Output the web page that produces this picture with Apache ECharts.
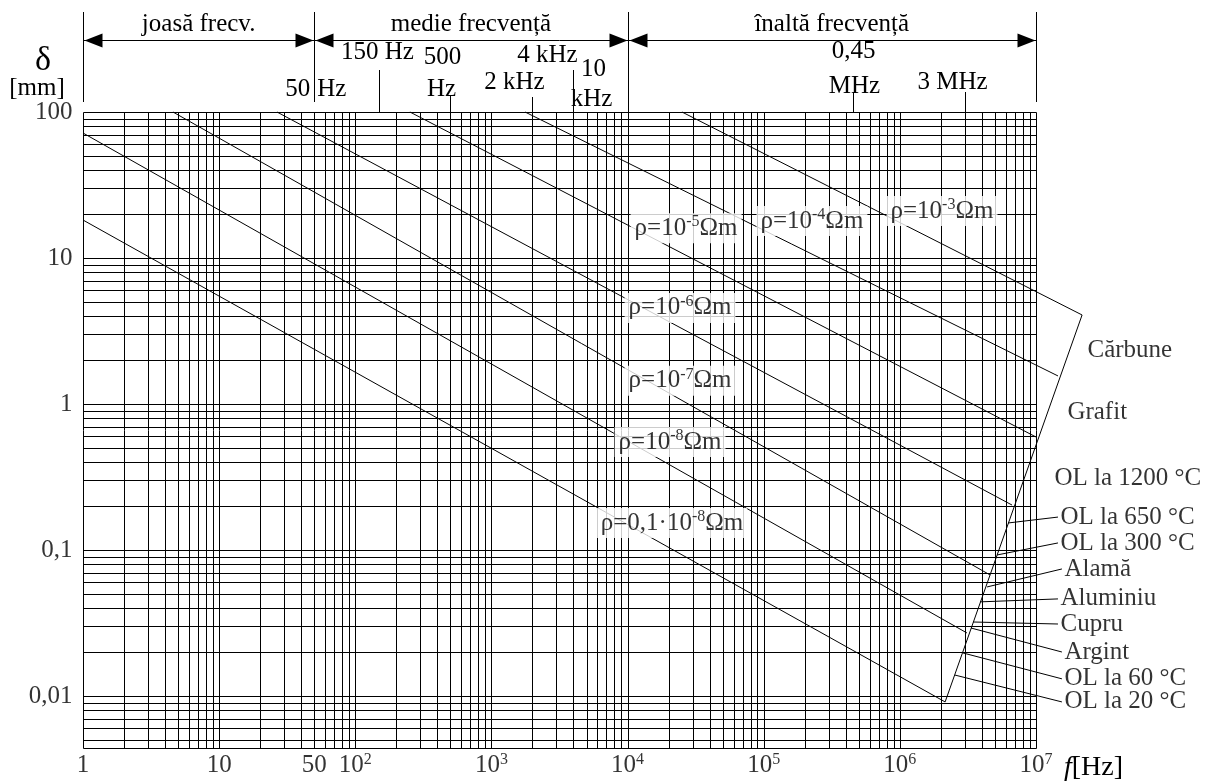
<!DOCTYPE html>
<html>
<head>
<meta charset="utf-8">
<title>Adâncimea de pătrundere δ(f)</title>
<script src="https://cdn.jsdelivr.net/npm/echarts@6.0.0/dist/echarts.min.js"></script>
<style>
  html, body { margin: 0; padding: 0; background: #fff; }
  #chart { width: 1211px; height: 782px; }
</style>
</head>
<body>
<div id="chart"></div>
<script>
// ---------------- data ----------------
const freqRange = [1, 1e7];          // f [Hz]
const depthRange = [0.0044, 100];    // δ [mm]

// δ(f) lines for each resistivity, given by their two end points [f (Hz), δ (mm)]
const rhoMantissa = ['ρ=0,1·10', 'ρ=10', 'ρ=10', 'ρ=10', 'ρ=10', 'ρ=10', 'ρ=10'];
const rhoExponent = ['-8', '-8', '-7', '-6', '-5', '-4', '-3'];
const rhoLine01e8 = [[1, 18.2], [2.15e6, 0.0091]];
const rhoLine1e8 = [[1, 71.8], [3.11e6, 0.027]];
const rhoLine1e7 = [[4.58, 100], [4.6e6, 0.0674]];
const rhoLine1e6 = [[26.6, 100], [6.67e6, 0.203]];
const rhoLine1e5 = [[252, 100], [1e7, 0.594]];
const rhoLine1e4 = [[1766, 100], [1.45e7, 1.556]];
const rhoLine1e3 = [[2.51e4, 100], [2.18e7, 4.07]];
const rhoLines = [rhoLine01e8, rhoLine1e8, rhoLine1e7, rhoLine1e6, rhoLine1e5, rhoLine1e4, rhoLine1e3];
// caption of each line [f, δ]
const rhoCaptionAt = [[2.12e4, 0.153], [2.05e4, 0.549], [2.43e4, 1.44], [2.43e4, 4.55],
                      [2.69e4, 16.0], [2.26e5, 17.9], [2.04e6, 21.0]];

// materials pointed at on the closing edge: anchor on the edge, end of the leader [f, δ]
const materialNames = ['OL la 650 °C', 'OL la 300 °C', 'Alamă', 'Aluminiu', 'Cupru', 'Argint',
                       'OL la 60 °C', 'OL la 20 °C'];
const materialAnchor = [[6.23e6, 0.153], [5.17e6, 0.0924], [4.37e6, 0.0558], [3.88e6, 0.0441],
                        [3.45e6, 0.0321], [3.33e6, 0.0292], [2.91e6, 0.0197], [2.54e6, 0.0139]];
const materialLeaderEnd = [[1.45e7, 0.168], [1.45e7, 0.1117], [1.55e7, 0.0741], [1.45e7, 0.0462],
                           [1.45e7, 0.0311], [1.55e7, 0.020], [1.55e7, 0.0131], [1.55e7, 0.0091]];
// materials written beside the edge without a leader
const freeMaterialNames = ['Cărbune', 'Grafit', 'OL la 1200 °C'];
const freeMaterialAt = [[2.29e7, 2.34], [1.63e7, 0.881], [1.31e7, 0.311]];

// axis tick labels
const xTickValues = [1, 10, 50, 100, 1e3, 1e4, 1e5, 1e6, 1e7];
const xTickBase = ['1', '10', '50', '10', '10', '10', '10', '10', '10'];
const xTickExp = ['', '', '', '2', '3', '4', '5', '6', '7'];
const yTickValues = [100, 10, 1, 0.1, 0.01];
const yTickLabels = ['100', '10', '1', '0,1', '0,01'];

// frequency bands and marked frequencies above the sheet
const bandEdges = [1, 50, 1e4, 1e7];
const bandNames = ['joasă frecv.', 'medie frecvență', 'înaltă frecvență'];
const markFreqs = [150, 500, 2000, 4000, 1e4, 4.5e5, 3e6];
const markTexts = [['150 Hz'], ['500', 'Hz'], ['2 kHz'], ['4 kHz'], ['10', 'kHz'], ['0,45', 'MHz'], ['3 MHz']];

// ---------------- styling / layout ----------------
const FONT = '"Liberation Serif", "Times New Roman", Times, serif';
const INK = '#000';
const SIZE = 25;
const PLOT = { left: 83, top: 112, right: 1036, bottom: 748 };

// placement of the marked-frequency texts: tick start (y) and, per text line, [dx, y]
const markLayout = [
  { tickTop: 70, lines: [[-2, 52]] },
  { tickTop: 95, lines: [[-8, 57], [-9, 89]] },
  { tickTop: 97, lines: [[-18, 82]] },
  { tickTop: 70, lines: [[-26, 55]] },
  { tickTop: 97, lines: [[-35, 69], [-37, 99]] },
  { tickTop: 92, lines: [[0, 51], [1, 86]] },
  { tickTop: 92, lines: [[-13, 82]] }
];

const rich = {
  b: { fontFamily: FONT, fontSize: SIZE, lineHeight: 28, color: INK },
  s: { fontFamily: FONT, fontSize: 16, lineHeight: 16, color: INK, verticalAlign: 'top' }
};

// log-paper rulings: 1..9 in every decade, plus the two ends of the range
function rulings(lo, hi) {
  const out = [lo];
  const e0 = Math.floor(Math.log10(lo) + 1e-9), e1 = Math.round(Math.log10(hi));
  for (let e = e0; e < e1 + 1; e++) {
    for (let m = 1; m <= 9; m++) {
      const v = +(m * Math.pow(10, e)).toPrecision(6);
      if (v > lo * 1.001 && v <= hi * 1.001) out.push(v);
    }
  }
  return out;
}
const gridX = rulings(freqRange[0], freqRange[1]);
const gridY = rulings(depthRange[0], depthRange[1]);

const chart = echarts.init(document.getElementById('chart'), null, { renderer: 'canvas' });

const crisp = v => Math.round(v) + 0.5;
const series = [];

// vertical rulings of the log-log sheet
series.push({
  type: 'custom', coordinateSystem: 'cartesian2d', silent: true, animation: false, clip: false, z: 1,
  data: gridX.map(v => [v, depthRange[0]]),
  renderItem: (params, api) => {
    const a = api.coord([api.value(0), depthRange[0]]);
    const b = api.coord([api.value(0), depthRange[1]]);
    const x = crisp(a[0]);
    return { type: 'line', shape: { x1: x, y1: crisp(a[1]), x2: x, y2: crisp(b[1]) }, style: { stroke: INK, lineWidth: 1 } };
  }
});
// horizontal rulings
series.push({
  type: 'custom', coordinateSystem: 'cartesian2d', silent: true, animation: false, clip: false, z: 1,
  data: gridY.map(v => [freqRange[0], v]),
  renderItem: (params, api) => {
    const a = api.coord([freqRange[0], api.value(1)]);
    const b = api.coord([freqRange[1], api.value(1)]);
    const y = crisp(a[1]);
    return { type: 'line', shape: { x1: crisp(a[0]), y1: y, x2: crisp(b[0]), y2: y }, style: { stroke: INK, lineWidth: 1 } };
  }
});

// straight segments: δ(f) lines, the closing edge and the leaders
const segments = rhoLines.map(p => [p[0][0], p[0][1], p[1][0], p[1][1]])
  .concat([[rhoLines[0][1][0], rhoLines[0][1][1], rhoLines[6][1][0], rhoLines[6][1][1]]])
  .concat(materialAnchor.map((p, i) => [p[0], p[1], materialLeaderEnd[i][0], materialLeaderEnd[i][1]]));
series.push({
  type: 'custom', coordinateSystem: 'cartesian2d', silent: true, animation: false, clip: false, z: 3,
  data: segments,
  renderItem: (params, api) => {
    const a = api.coord([api.value(0), api.value(1)]);
    const b = api.coord([api.value(2), api.value(3)]);
    return { type: 'line', shape: { x1: a[0], y1: a[1], x2: b[0], y2: b[1] }, style: { stroke: INK, lineWidth: 1 } };
  }
});

const hidden = { color: 'rgba(0,0,0,0)' };
// ρ captions on white patches
series.push({
  type: 'scatter', z: 10, clip: false, silent: true, animation: false, symbolSize: 1, itemStyle: hidden,
  data: rhoCaptionAt.map((p, i) => ({
    value: p,
    label: { formatter: `{b|${rhoMantissa[i]}}{s|${rhoExponent[i]}}{b|Ωm}` }
  })),
  label: { show: true, position: 'inside', color: INK, backgroundColor: '#fff', padding: [1, 4], rich }
});
// material names
series.push({
  type: 'scatter', z: 10, clip: false, silent: true, animation: false, symbolSize: 1, itemStyle: hidden,
  data: materialLeaderEnd.map((p, i) => ({ value: p, name: materialNames[i] }))
    .concat(freeMaterialAt.map((p, i) => ({ value: p, name: freeMaterialNames[i] }))),
  label: { show: true, position: 'right', distance: 2, color: INK, formatter: '{b|{b}}', rich }
});
// frequency axis numbers
series.push({
  type: 'scatter', z: 10, clip: false, silent: true, animation: false, symbolSize: 1, itemStyle: hidden,
  data: xTickValues.map((v, i) => ({
    value: [v, depthRange[0]],
    label: { formatter: xTickExp[i] ? `{b|${xTickBase[i]}}{s|${xTickExp[i]}}` : `{b|${xTickBase[i]}}` }
  })),
  label: { show: true, position: 'bottom', distance: 3, color: INK, rich }
});
// depth axis numbers
series.push({
  type: 'scatter', z: 10, clip: false, silent: true, animation: false, symbolSize: 1, itemStyle: hidden,
  data: yTickValues.map((v, i) => ({ value: [freqRange[0], v], name: yTickLabels[i] })),
  label: { show: true, position: 'left', distance: 10, color: INK, formatter: '{b|{b}}', rich }
});

chart.setOption({
  animation: false,
  backgroundColor: '#fff',
  grid: { left: PLOT.left, top: PLOT.top, width: PLOT.right - PLOT.left, height: PLOT.bottom - PLOT.top },
  xAxis: {
    type: 'log', logBase: 10, min: freqRange[0], max: freqRange[1],
    axisLine: { show: false }, axisTick: { show: false }, axisLabel: { show: false }, splitLine: { show: false }
  },
  yAxis: {
    type: 'log', logBase: 10, min: depthRange[0], max: depthRange[1],
    axisLine: { show: false }, axisTick: { show: false }, axisLabel: { show: false }, splitLine: { show: false }
  },
  series
});

// ---------------- band header above the sheet ----------------
const X = f => chart.convertToPixel({ xAxisIndex: 0 }, f);
const els = [];
const line = (x1, y1, x2, y2) => ({
  type: 'line', silent: true, shape: { x1, y1, x2, y2 }, style: { stroke: INK, lineWidth: 1 }
});
const text = (t, x, y, align, size) => ({
  type: 'text', silent: true, x, y,
  style: { text: t, font: `${size || SIZE}px ${FONT}`, fill: INK, align: align || 'center', verticalAlign: 'middle' }
});

const ARROW_Y = 40.5, HEAD_L = 18, HEAD_W = 7;
const edgePx = bandEdges.map(X);
edgePx.forEach(x => els.push(line(crisp(x), 12, crisp(x), 102)));
els.push(line(edgePx[0], ARROW_Y, edgePx[edgePx.length - 1], ARROW_Y));
for (let i = 0; i < bandNames.length; i++) {
  const a = crisp(edgePx[i]) + 1, b = crisp(edgePx[i + 1]) - 1;
  els.push({ type: 'polygon', silent: true, shape: { points: [[a, ARROW_Y], [a + HEAD_L, ARROW_Y - HEAD_W], [a + HEAD_L, ARROW_Y + HEAD_W]] }, style: { fill: INK } });
  els.push({ type: 'polygon', silent: true, shape: { points: [[b, ARROW_Y], [b - HEAD_L, ARROW_Y - HEAD_W], [b - HEAD_L, ARROW_Y + HEAD_W]] }, style: { fill: INK } });
  els.push(text(bandNames[i], (edgePx[i] + edgePx[i + 1]) / 2, 24));
}
// "50 | Hz" written across the low/medium boundary
els.push(text('50', edgePx[1] - 4, 89, 'right'));
els.push(text('Hz', edgePx[1] + 3, 89, 'left'));

markFreqs.forEach((f, i) => {
  const x = crisp(X(f));
  const lay = markLayout[i];
  els.push(line(x, lay.tickTop, x, PLOT.top));
  markTexts[i].forEach((t, k) => els.push(text(t, x + lay.lines[k][0], lay.lines[k][1])));
});

// axis titles
els.push(text('δ', 43, 61, 'center', 34));
els.push(text('[mm]', 37, 88, 'center', SIZE));
els.push({
  type: 'text', silent: true, x: X(freqRange[1]) + 28, y: 768,
  style: {
    text: '{i|f}{b|[Hz]}', align: 'left', verticalAlign: 'middle',
    rich: {
      i: { fontFamily: FONT, fontSize: 28, fontStyle: 'italic', color: INK },
      b: { fontFamily: FONT, fontSize: 28, color: INK }
    }
  }
});

chart.setOption({ graphic: { elements: els } });
</script>
</body>
</html>
